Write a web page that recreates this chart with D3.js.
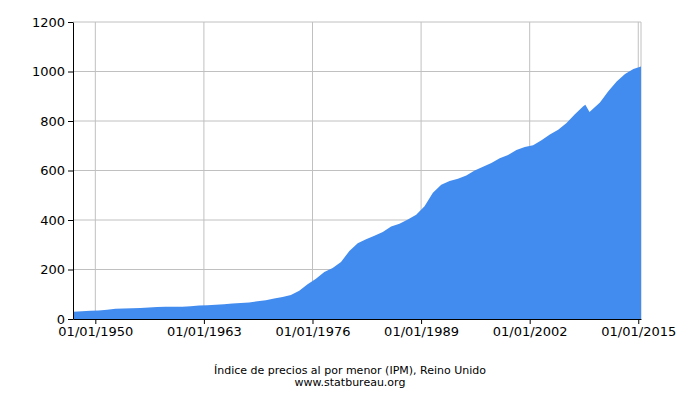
<!DOCTYPE html>
<html><head><meta charset="utf-8">
<script src="https://cdn.jsdelivr.net/npm/d3@7"></script>
<style>body{margin:0;background:#fff}svg{font-family:"DejaVu Sans",sans-serif}</style>
</head><body><svg width="700" height="400"></svg>
<script>
const dates=["1947-06","1948-06","1949-06","1950-06","1951-06","1952-06","1953-06","1954-06","1955-06","1956-06","1957-06","1958-06","1959-06","1960-06","1961-06","1962-06","1963-06","1964-06","1965-06","1966-06","1967-06","1968-06","1969-06","1970-06","1971-06","1972-06","1973-06","1974-06","1975-06","1976-06","1977-06","1978-06","1979-06","1980-06","1981-06","1982-06","1983-06","1984-06","1985-06","1986-06","1987-06","1988-06","1989-06","1990-06","1991-06","1992-06","1993-06","1994-06","1995-06","1996-06","1997-06","1998-06","1999-06","2000-06","2001-06","2002-06","2003-06","2004-06","2005-06","2006-06","2007-06","2008-06","2008-09","2009-03","2010-06","2011-06","2012-06","2013-06","2014-06","2015-05"];
const values=[29,31,33,34,37,41,42,43,44,46,48,50,50,50,52,55,56,58,60,63,65,67,72,76,83,89,97,114,140,163,190,206,230,275,306,322,336,352,374,385,402,421,456,510,542,558,567,580,600,615,630,650,663,683,695,702,722,745,765,792,827,860,866,836,875,920,960,990,1010,1020];
const yTicks=[0,200,400,600,800,1000,1200];
const xTickLabels=["01/01/1950","01/01/1963","01/01/1976","01/01/1989","01/01/2002","01/01/2015"];
const parse=d3.timeParse("%Y-%m"), parseT=d3.timeParse("%d/%m/%Y");
const data=dates.map((d,i)=>({d:parse(d),v:values[i]}));
const svg=d3.select("svg");
const x=d3.scaleTime().domain([parse("1947-05"),parse("2015-05")]).range([73,641]);
const y=d3.scaleLinear().domain([0,1200]).range([319,22]);
const g=svg.append("g");
yTicks.forEach(t=>g.append("line").attr("x1",73).attr("x2",641).attr("y1",y(t)).attr("y2",y(t)).attr("stroke","#c0c0c0"));
xTickLabels.forEach(t=>g.append("line").attr("x1",x(parseT(t))).attr("x2",x(parseT(t))).attr("y1",22).attr("y2",319).attr("stroke","#c0c0c0"));
g.append("line").attr("x1",641).attr("x2",641).attr("y1",22).attr("y2",319).attr("stroke","#c0c0c0");
svg.append("path").datum(data).attr("fill","#428bef")
 .attr("d",d3.area().x(d=>x(d.d)).y0(319).y1(d=>y(d.v)));
svg.append("g").attr("transform","translate(73,0)")
 .call(d3.axisLeft(y).tickValues(yTicks).tickFormat(d3.format("d")).tickSize(5).tickSizeOuter(0))
 .call(a=>a.selectAll("text").attr("font-size",13).attr("fill","#000").attr("font-family","DejaVu Sans"));
svg.append("g").attr("transform","translate(0,319)")
 .call(d3.axisBottom(x).tickValues(xTickLabels.map(parseT)).tickFormat(d3.timeFormat("%d/%m/%Y")).tickSize(5).tickSizeOuter(0))
 .call(a=>a.selectAll("text").attr("font-size",13).attr("fill","#000").attr("font-family","DejaVu Sans"));
svg.append("text").attr("x",350).attr("y",374).attr("text-anchor","middle").attr("font-size",11).text("Índice de precios al por menor (IPM), Reino Unido");
svg.append("text").attr("x",350).attr("y",386).attr("text-anchor","middle").attr("font-size",11).text("www.statbureau.org");
</script></body></html>
